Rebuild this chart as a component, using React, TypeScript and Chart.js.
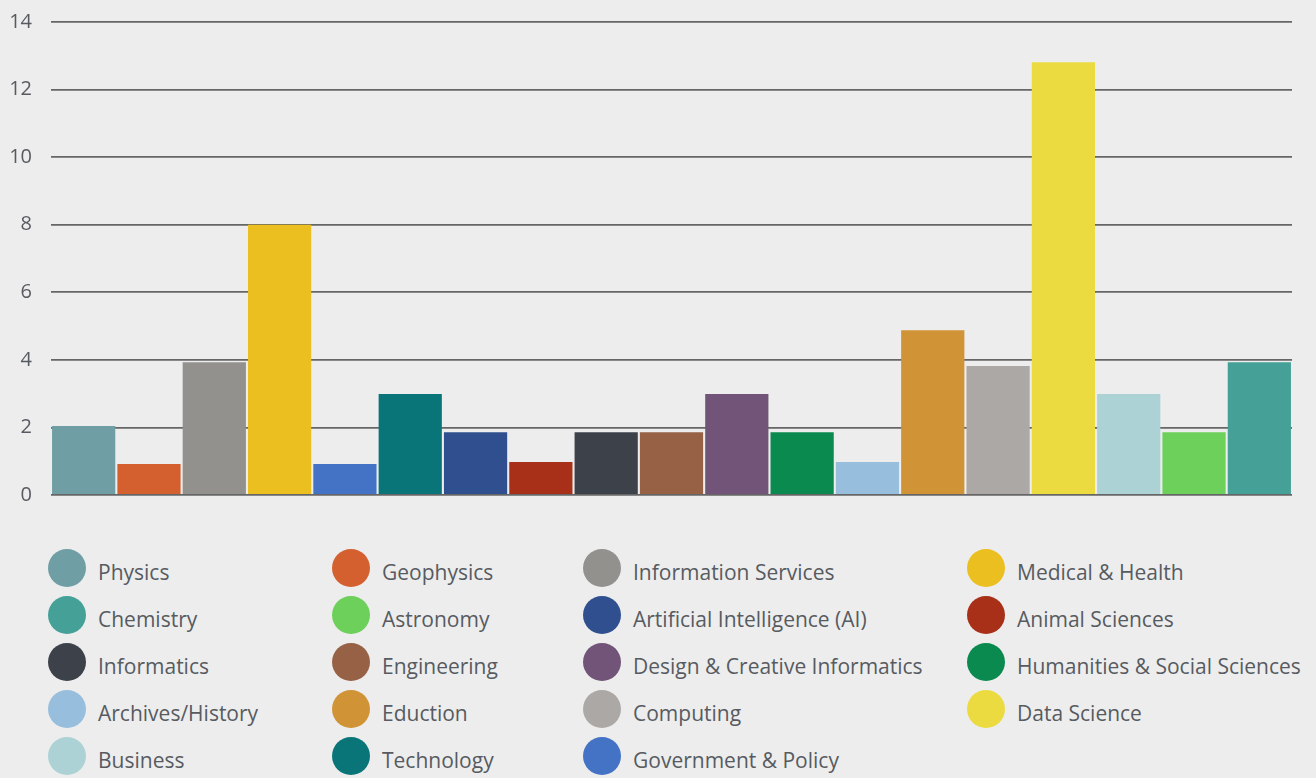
import React, { useEffect, useRef } from "react";
import { Chart, registerables } from "chart.js";

Chart.register(...registerables);

const barLabels = [
  "Physics", "Geophysics", "Information Services", "Medical & Health", "Government & Policy",
  "Technology", "Artificial Intelligence (AI)", "Animal Sciences", "Informatics", "Engineering",
  "Design & Creative Informatics", "Humanities & Social Sciences", "Archives/History", "Eduction",
  "Computing", "Data Science", "Business", "Astronomy", "Chemistry",
];
const barValues = [2.04, 0.92, 3.93, 8.0, 0.92, 2.99, 1.86, 0.98, 1.86, 1.86, 2.99, 1.86, 0.98, 4.88, 3.82, 12.81, 2.99, 1.86, 3.93];

const colorMap: Record<string, string> = {
  "Physics": "#6f9ea4",
  "Geophysics": "#d46030",
  "Information Services": "#92918e",
  "Medical & Health": "#ebbf1f",
  "Chemistry": "#45a197",
  "Astronomy": "#6cd05a",
  "Artificial Intelligence (AI)": "#2f4f8f",
  "Animal Sciences": "#a83019",
  "Informatics": "#3d424a",
  "Engineering": "#976146",
  "Design & Creative Informatics": "#715477",
  "Humanities & Social Sciences": "#0a8a4e",
  "Archives/History": "#97bedc",
  "Eduction": "#d09335",
  "Computing": "#aca8a6",
  "Data Science": "#ebdb40",
  "Business": "#acd2d6",
  "Technology": "#097579",
  "Government & Policy": "#4472c4",
};

const legendOrder = [
  "Physics", "Geophysics", "Information Services", "Medical & Health",
  "Chemistry", "Astronomy", "Artificial Intelligence (AI)", "Animal Sciences",
  "Informatics", "Engineering", "Design & Creative Informatics", "Humanities & Social Sciences",
  "Archives/History", "Eduction", "Computing", "Data Science",
  "Business", "Technology", "Government & Policy",
];

const yTicks = [0, 2, 4, 6, 8, 10, 12, 14];

const FONT = "'Open Sans', 'Noto Sans', sans-serif";
const TEXT = "#575b61";
const BG = "#ededed";

const colLefts = [48, 332, 583, 967];
const rowCenters = [568, 615, 662, 709, 756];

export default function App() {
  const ref = useRef<HTMLCanvasElement | null>(null);
  useEffect(() => {
    document.body.style.margin = "0";
    document.body.style.background = BG;
    const ctx = ref.current!;
    const chart = new Chart(ctx, {
      type: "bar",
      data: {
        labels: barLabels,
        datasets: [
          {
            data: barValues,
            backgroundColor: barLabels.map((l) => colorMap[l]),
            borderWidth: 0,
            categoryPercentage: 1,
            barPercentage: 0.968,
          },
        ],
      },
      options: {
        animation: false,
        responsive: false,
        devicePixelRatio: 1,
        layout: { padding: { top: 22, bottom: 25, left: 0, right: 24 } },
        plugins: { legend: { display: false }, tooltip: { enabled: false } },
        scales: {
          x: { display: false },
          y: {
            min: 0,
            max: 14,
            afterFit: (s: any) => {
              s.width = 51;
              s.paddingTop = 0;
              s.paddingBottom = 0;
            },
            afterBuildTicks: (s: any) => { s.ticks = yTicks.map((v) => ({ value: v })); },
            border: { display: false },
            grid: { color: "#666666", lineWidth: 1.8, drawTicks: false },
            ticks: {
              padding: 19,
              color: TEXT,
              font: { family: FONT, size: 20 },
            },
          },
        },
      },
    });
    return () => chart.destroy();
  }, []);

  return (
    <div style={{ position: "relative", width: 1316, height: 778, background: BG, fontFamily: FONT }}>
      <canvas ref={ref} width={1316} height={520} style={{ position: "absolute", left: 0, top: 0 }} />
      {legendOrder.map((name, i) => {
        const col = i % 4;
        const row = Math.floor(i / 4);
        return (
          <div
            key={name}
            style={{
              position: "absolute",
              left: colLefts[col],
              top: rowCenters[row] - 20,
              height: 40,
              display: "flex",
              alignItems: "center",
              whiteSpace: "nowrap",
            }}
          >
            <span
              style={{
                width: 38,
                height: 38,
                borderRadius: "50%",
                background: colorMap[name],
                display: "inline-block",
                marginRight: 12,
                flex: "none",
              }}
            />
            <span style={{ fontSize: 21, color: TEXT, position: "relative", top: 4 }}>{name}</span>
          </div>
        );
      })}
    </div>
  );
}
